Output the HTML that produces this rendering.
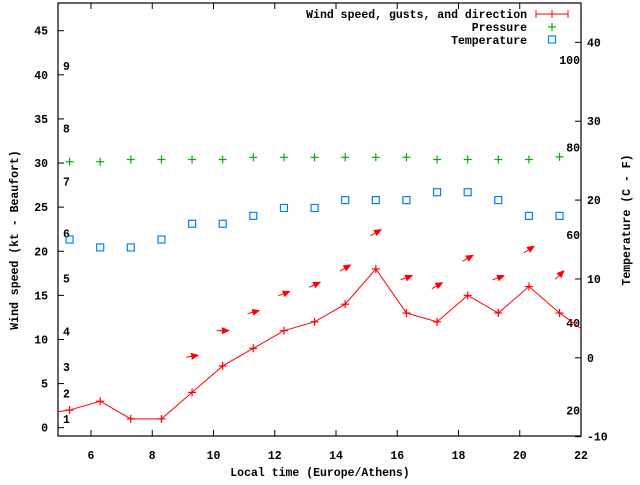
<!DOCTYPE html>
<html><head><meta charset="utf-8"><style>
body{margin:0;background:#fff}
svg text{font-family:"Liberation Mono",monospace;font-weight:bold;font-size:11.5px;fill:#000}
</style></head><body>
<svg id="chart" width="640" height="480" xmlns="http://www.w3.org/2000/svg"></svg>
<script>
const times=[4.3,5.3,6.3,7.3,8.3,9.3,10.3,11.3,12.3,13.3,14.3,15.3,16.3,17.3,18.3,19.3,20.3,21.3,22.3];
const wind=[1.5,2,3,1,1,4,7,9,11,12,14,18,13,12,15,13,16,13,10.5];
const ptTimes=[5.3,6.3,7.3,8.3,9.3,10.3,11.3,12.3,13.3,14.3,15.3,16.3,17.3,18.3,19.3,20.3,21.3];
const pressure=[30.15,30.15,30.4,30.4,30.4,30.4,30.65,30.65,30.65,30.65,30.65,30.65,30.4,30.4,30.4,30.4,30.7];
const temperature=[15,14,14,15,17,17,18,19,19,20,20,20,21,21,20,18,18];
const gustTimes=[9.3,10.3,11.3,12.3,13.3,14.3,15.3,16.3,17.3,18.3,19.3,20.3,21.3];
const gusts=[8.1,11,13.1,15.2,16.2,18.1,22.1,17,16.1,19.2,17,20.2,17.3];
const directions=[10,0,15,20,25,30,30,20,30,30,20,33,45];
const xTicks=[6,8,10,12,14,16,18,20,22];
const yTicks=[0,5,10,15,20,25,30,35,40,45];
const y2Ticks=[-10,0,10,20,30,40];
const beaufort=[1,2,3,4,5,6,7,8,9];
const beaufortKt=[1.0,3.9,6.9,10.9,16.9,22,27.9,33.9,41];
const fahr=[20,40,60,80,100];

const L=58,R=581,T=3,B=436;
const X=v=>91+(v-6)*(R-91)/16;
const Y=v=>427.7-v*8.822;
const Y2=v=>436.7-(v+10)*7.887;
const NS="http://www.w3.org/2000/svg";
const svg=document.getElementById('chart');
function mk(tag,attrs,parent){const e=document.createElementNS(NS,tag);for(const k in attrs)e.setAttribute(k,attrs[k]);(parent||svg).appendChild(e);return e;}
function txt(s,x,y,anchor,fill){const t=mk('text',{x:x,y:y,'text-anchor':anchor||'start'});t.textContent=s;if(fill)t.setAttribute('fill',fill);return t;}

const clip=mk('clipPath',{id:'pc'});mk('rect',{x:L,y:T,width:R-L,height:B-T},clip);

// axes box
const box=mk('rect',{x:L,y:T,width:R-L,height:B-T,fill:'none',stroke:'#000','stroke-width':1.2});



xTicks.forEach(v=>{
  const g=mk('g',{});
  
  
  mk('line',{x1:X(v),x2:X(v),y1:B,y2:B-6,stroke:'#000'},g);
  mk('line',{x1:X(v),x2:X(v),y1:T,y2:T+6,stroke:'#000'},g);
  const t=txt(String(v),X(v),459,'middle');g.appendChild(t);
});
yTicks.forEach(v=>{
  const g=mk('g',{});
  
  
  mk('line',{x1:L,x2:L+6,y1:Y(v),y2:Y(v),stroke:'#000'},g);
  const t=txt(String(v),48,Y(v)+4,'end');g.appendChild(t);
});
y2Ticks.forEach(v=>{
  const g=mk('g',{});
  
  
  mk('line',{x1:R,x2:R-6,y1:Y2(v),y2:Y2(v),stroke:'#000'},g);
  const t=txt(String(v),587,Y2(v)+4,'start');g.appendChild(t);
});
beaufort.forEach((b,i)=>{
  const t=txt(String(b),63,Y(beaufortKt[i])+4,'start');
  
  
});
fahr.forEach(f=>{
  const c=(f-32)*5/9;
  const t=txt(String(f),580,Y2(c)+4,'end');
  
  
});

let t=txt('Local time (Europe/Athens)',320,476,'middle');


t=txt('Wind speed (kt - Beaufort)',0,0,'middle');
t.setAttribute('transform','translate(18,240) rotate(-90)');


t=txt('Temperature (C - F)',0,0,'middle');
t.setAttribute('transform','translate(630,220) rotate(-90)');



const plot=mk('g',{'clip-path':'url(#pc)'});
// wind line
const wl=mk('polyline',{points:times.map((x,i)=>X(x)+','+Y(wind[i])).join(' '),fill:'none',stroke:'#f00','stroke-width':1},plot);


function plus(cx,cy,col,name,s){
  const g=mk('g',{stroke:col,'stroke-width':1.2},plot);
  
  
  mk('line',{x1:cx-s,x2:cx+s,y1:cy,y2:cy},g);mk('line',{x1:cx,x2:cx,y1:cy-s,y2:cy+s},g);
}
times.forEach((x,i)=>plus(X(x),Y(wind[i]),'#f00','wind-point',4));
ptTimes.forEach((x,i)=>plus(X(x),Y(pressure[i]),'#00b000','pressure-point',4));
ptTimes.forEach((x,i)=>{
  const r=mk('rect',{x:X(x)-3.5,y:Y2(temperature[i])-3.5,width:7,height:7,fill:'none',stroke:'#0080ff','stroke-width':1.2},plot);
  
  
});
gustTimes.forEach((x,i)=>{
  const a=directions[i]*Math.PI/180,cx=X(x),cy=Y(gusts[i]);
  const dx=Math.cos(a)*6,dy=-Math.sin(a)*6;
  const g=mk('g',{},plot);
  
  
  mk('line',{x1:cx-dx,y1:cy-dy,x2:cx+dx,y2:cy+dy,stroke:'#f00','stroke-width':1},g);
  const hx=cx+dx*1.2,hy=cy+dy*1.2,ux=Math.cos(a),uy=-Math.sin(a);
  const bx=hx-ux*8,by=hy-uy*8;
  mk('polygon',{points:`${hx},${hy} ${bx-uy*3.5},${by+ux*3.5} ${bx+uy*3.5},${by-ux*3.5}`,fill:'#f00'},g);
});

// legend
const lg=mk('g',{});


let lt=txt('Wind speed, gusts, and direction',527,18,'end');lg.appendChild(lt);
lt=txt('Pressure',527,31,'end');lg.appendChild(lt);
lt=txt('Temperature',527,44,'end');lg.appendChild(lt);
const le=mk('g',{stroke:'#f00'},lg);


mk('line',{x1:536,x2:568,y1:14,y2:14},le);mk('line',{x1:536,x2:536,y1:10,y2:18},le);mk('line',{x1:568,x2:568,y1:10,y2:18},le);mk('line',{x1:552,x2:552,y1:10,y2:18},le);
const lp=mk('g',{stroke:'#00b000','stroke-width':1.2},lg);


mk('line',{x1:548,x2:556,y1:27,y2:27},lp);mk('line',{x1:552,x2:552,y1:23,y2:31},lp);
const ltp=mk('rect',{x:548.5,y:36,width:7,height:7,fill:'none',stroke:'#0080ff','stroke-width':1.2},lg);


</script>
</body></html>
